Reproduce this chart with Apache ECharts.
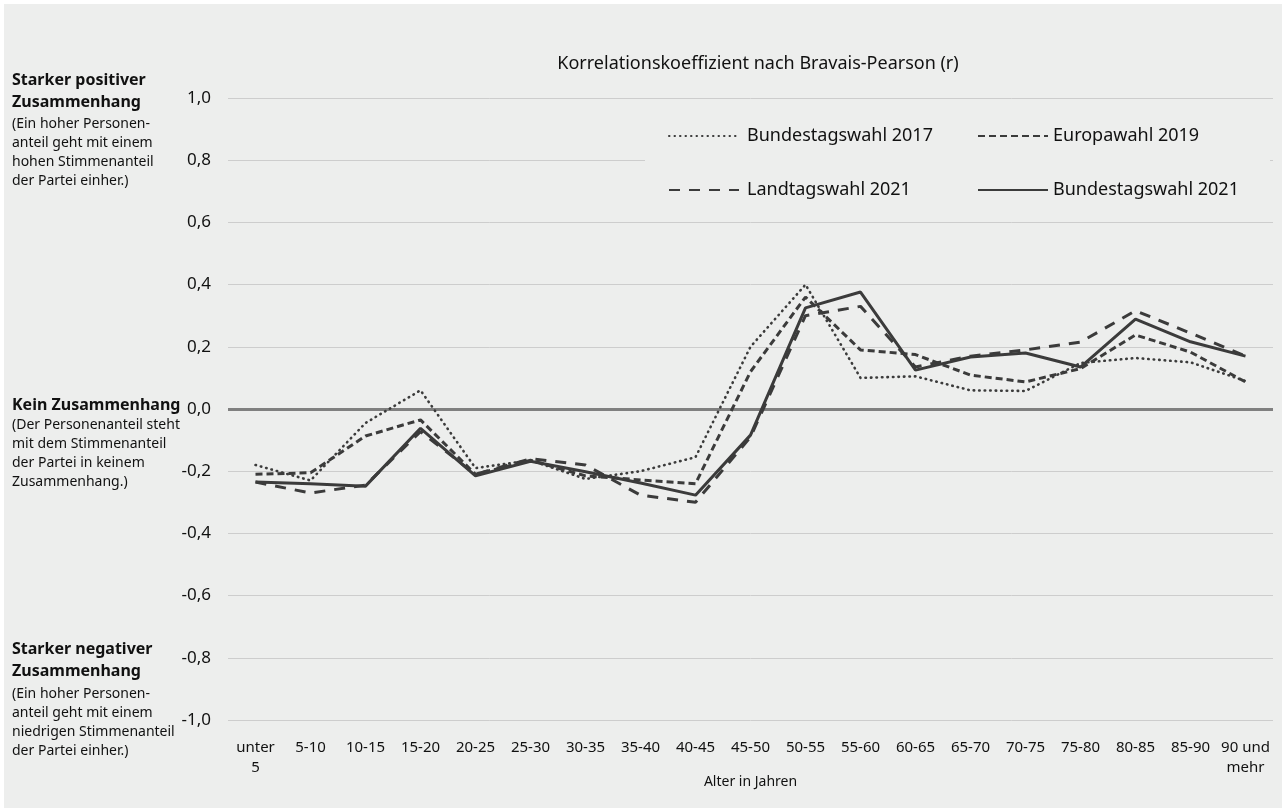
<!DOCTYPE html>
<html>
<head>
<meta charset="utf-8">
<script src="https://cdn.jsdelivr.net/npm/echarts@6/dist/echarts.min.js"></script>
<style>
html,body{margin:0;padding:0;background:#fff;}
#c{width:1286px;height:812px;background:#edeeed;box-shadow:inset 0 0 0 4px #fff;}
</style>
</head>
<body>
<div id="c"></div>
<script>
const categories = ['unter\n5','5-10','10-15','15-20','20-25','25-30','30-35','35-40','40-45','45-50','50-55','55-60','60-65','65-70','70-75','75-80','80-85','85-90','90 und\nmehr'];
const btw2017 = [-0.18,-0.23,-0.045,0.06,-0.19,-0.165,-0.225,-0.20,-0.155,0.20,0.40,0.10,0.105,0.06,0.058,0.148,0.164,0.15,0.09];
const euro2019 = [-0.21,-0.205,-0.087,-0.035,-0.21,-0.165,-0.215,-0.228,-0.24,0.12,0.36,0.19,0.175,0.109,0.087,0.13,0.238,0.183,0.087];
const ltw2021 = [-0.235,-0.27,-0.245,-0.073,-0.21,-0.16,-0.18,-0.277,-0.30,-0.09,0.30,0.33,0.135,0.17,0.19,0.215,0.316,0.244,0.17];
const btw2021 = [-0.235,-0.24,-0.248,-0.062,-0.215,-0.168,-0.202,-0.238,-0.277,-0.084,0.325,0.376,0.125,0.167,0.18,0.135,0.289,0.216,0.17];
const seriesNames = ['Bundestagswahl 2017','Europawahl 2019','Landtagswahl 2021','Bundestagswahl 2021'];

const FONT = 'Noto Sans';
const LINE = '#3b3b3b';
const BG = '#edeeed';

const chart = echarts.init(document.getElementById('c'), null, {renderer:'canvas'});

function fmt(v){ if (Math.abs(v) < 1e-9) v = 0; return v.toFixed(1).replace('.', ','); }

const annot = (x, yBold, yNormal, bold, normal) => ([
  {type:'text', left:x, top:yBold, z:10,
   style:{text:bold, fontFamily:FONT, fontWeight:'bold', fontSize:16, lineHeight:22, fill:'#111'}},
  {type:'text', left:x, top:yNormal, z:10,
   style:{text:normal, fontFamily:FONT, fontSize:14, lineHeight:19, fill:'#111'}}
]);

const legendCommon = {
  orient:'vertical', top:122, itemGap:36, itemWidth:70, itemHeight:18,
  itemStyle:{opacity:0},
  textStyle:{fontFamily:FONT, fontSize:18, color:'#111'}
};

chart.setOption({
  backgroundColor:'transparent',
  animation:false,
  title:{
    text:'Korrelationskoeffizient nach Bravais-Pearson (r)',
    left:753, top:50, textAlign:'center',
    textStyle:{fontFamily:FONT, fontSize:18, fontWeight:'normal', color:'#111'}
  },
  grid:{left:228, right:13, top:98, bottom:92},
  legend:[
    Object.assign({}, legendCommon, {
      data:[seriesNames[0], seriesNames[2]], left:663,
      textStyle:{fontFamily:FONT, fontSize:18, color:'#111', padding:[0,0,0,3]}
    }),
    Object.assign({}, legendCommon, {
      data:[seriesNames[1], seriesNames[3]], left:972
    })
  ],
  graphic:[
    {type:'rect', shape:{x:645, y:112, width:625, height:92}, style:{fill:BG}, z:1, silent:true}
  ].concat(
    annot(12, 69, 115, 'Starker positiver\nZusammenhang', '(Ein hoher Personen-\nanteil geht mit einem\nhohen Stimmenanteil\nder Partei einher.)'),
    annot(12, 394, 416, 'Kein Zusammenhang', '(Der Personenanteil steht\nmit dem Stimmenanteil\nder Partei in keinem\nZusammenhang.)'),
    annot(12, 638, 685, 'Starker negativer\nZusammenhang', '(Ein hoher Personen-\nanteil geht mit einem\nniedrigen Stimmenanteil\nder Partei einher.)')
  ),
  xAxis:{
    type:'category', data:categories, boundaryGap:true,
    axisLine:{show:false}, axisTick:{show:false},
    axisLabel:{interval:0, fontFamily:FONT, fontSize:15, color:'#111', margin:18, lineHeight:20},
    name:'Alter in Jahren', nameLocation:'middle', nameGap:55, nameMoveOverlap:false,
    nameTextStyle:{fontFamily:FONT, fontSize:14, color:'#111'}
  },
  yAxis:{
    type:'value', min:-1, max:1, interval:0.2,
    axisLine:{show:false}, axisTick:{show:false},
    axisLabel:{formatter:fmt, fontFamily:FONT, fontSize:17, color:'#111', margin:17},
    splitLine:{lineStyle:{color:'#cdcdcd', width:1}}
  },
  series:[
    {name:seriesNames[0], type:'line', data:btw2017, symbol:'none', z:2,
     lineStyle:{color:LINE, width:2.6, type:[0.5,5], cap:'round'}, itemStyle:{color:LINE},
     markLine:{silent:true, symbol:'none', label:{show:false}, z:1,
       lineStyle:{color:'#808080', width:3, type:'solid'}, data:[{yAxis:0}]}},
    {name:seriesNames[1], type:'line', data:euro2019, symbol:'none', z:3,
     lineStyle:{color:LINE, width:3, type:[7,4]}, itemStyle:{color:LINE}},
    {name:seriesNames[2], type:'line', data:ltw2021, symbol:'none', z:3,
     lineStyle:{color:LINE, width:3, type:[11,9]}, itemStyle:{color:LINE}},
    {name:seriesNames[3], type:'line', data:btw2021, symbol:'none', z:4,
     lineStyle:{color:LINE, width:3, type:'solid'}, itemStyle:{color:LINE}}
  ]
});
</script>
</body>
</html>
